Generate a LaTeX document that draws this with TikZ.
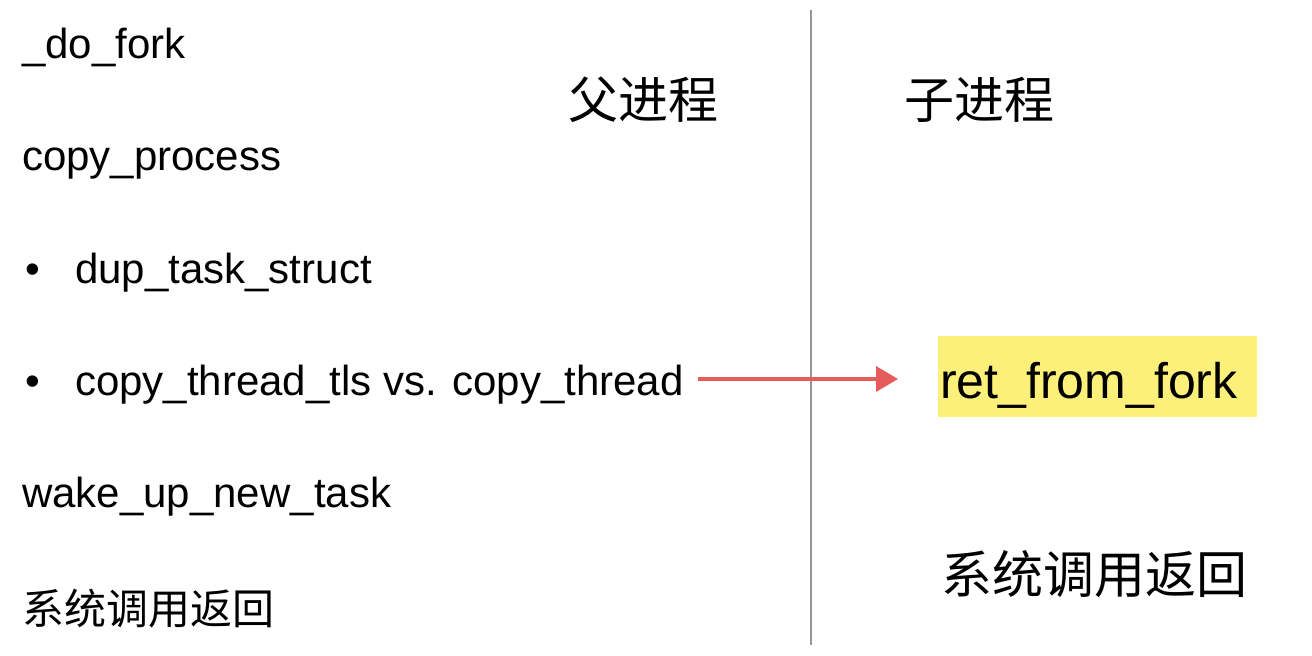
\documentclass[tikz,border=0pt]{standalone}
\usepackage{fontspec}
\setmainfont{Liberation Sans}
\newfontfamily\cjk{Noto Sans CJK SC}
\usetikzlibrary{arrows.meta}
\definecolor{hl}{RGB}{252,239,122}
\definecolor{arrred}{RGB}{229,92,90}
\definecolor{divgray}{RGB}{150,150,150}
\begin{document}
\begin{tikzpicture}[x=1pt,y=-1pt,
  lbl/.style={anchor=base west,inner sep=0pt,font=\fontsize{42}{50}\selectfont},
  cjklbl/.style={inner sep=0pt,font=\cjk\fontsize{#1}{#1}\selectfont},
  arr/.style={draw=arrred,line width=3.5pt,-{Triangle[length=22pt,width=25pt]}}]
\useasboundingbox (0,0) rectangle (1312,656);
\fill[white] (0,0) rectangle (1312,656);
% divider
\draw[divgray,line width=2pt] (811,10) -- (811,645);
% headings
\node[cjklbl=50] (parent) at (643,100) {父进程};
\node[cjklbl=50] (child) at (979,100) {子进程};
% left list
\node[lbl] (dofork) at (22,58) {\_do\_fork};
\node[lbl] (cp) at (22,170) {copy\_process};
\node[lbl] (b1) at (25,283) {•};
\node[lbl] (dts) at (75,283) {dup\_task\_struct};
\node[lbl] (b2) at (25,395) {•};
\node[lbl] (ct) at (75,395) {copy\_thread\_tls vs. copy\_thread};
\node[lbl] (wake) at (22,507) {wake\_up\_new\_task};
\node[cjklbl=42,anchor=west] (sysl) at (22,609) {系统调用返回};
% right side
\node[fill=hl,anchor=west,inner xsep=2pt,inner ysep=0pt,text height=62pt,text depth=19pt,
      text width=315pt,align=left,font=\fontsize{50}{60}\selectfont] (ret) at (938,376.5) {ret\_from\_fork};
\node[cjklbl=51] (sysr) at (1094,574) {系统调用返回};
% arrow
\coordinate (as) at ([xshift=14pt]ct.east);
\coordinate (ae) at ([xshift=-40pt,yshift=-2.5pt]ret.west);
\draw[arr] (as |- ae) -- (ae);
\end{tikzpicture}
\end{document}
